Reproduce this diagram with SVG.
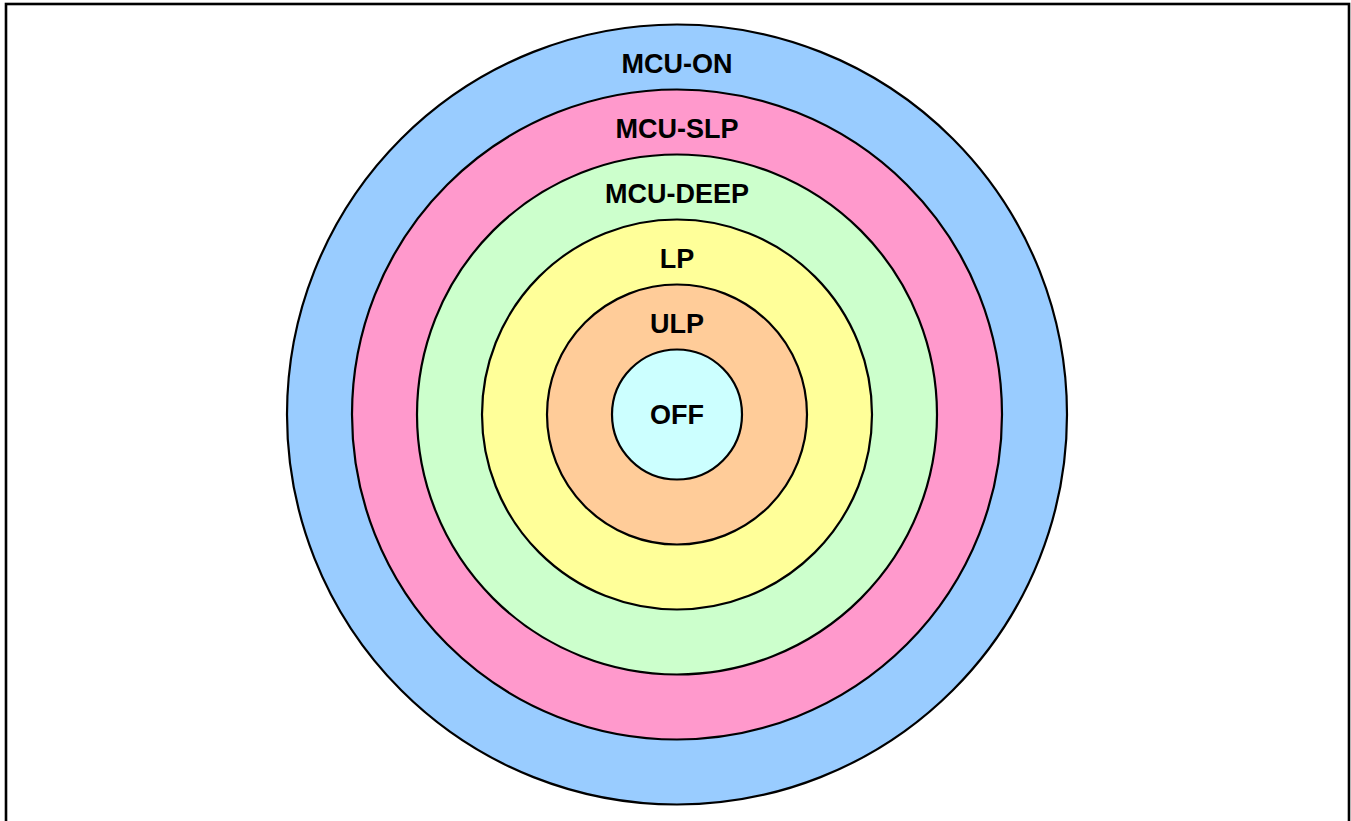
<svg xmlns="http://www.w3.org/2000/svg" width="1351" height="821" viewBox="0 0 1351 821">
  <style>
    .ring { stroke: #000; stroke-width: 2.2; }
    .lbl { font-family: "Liberation Sans", Arial, sans-serif; font-weight: bold; font-size: 27px; fill: #000; text-anchor: middle; }
  </style>
  <rect x="0" y="0" width="1351" height="821" fill="#fff"/>
  <!-- frame, open at the bottom edge -->
  <rect x="6" y="4" width="1343" height="900" fill="none" stroke="#000" stroke-width="2.6"/>

  <g id="mcu-on">
    <circle class="ring" cx="677" cy="414.5" r="390" fill="#99ccff"/>
    <text class="lbl" x="677" y="72.5">MCU-ON</text>
  </g>
  <g id="mcu-slp">
    <circle class="ring" cx="677" cy="414.5" r="325" fill="#ff99cc"/>
    <text class="lbl" x="677" y="137.5">MCU-SLP</text>
  </g>
  <g id="mcu-deep">
    <circle class="ring" cx="677" cy="414.5" r="260" fill="#ccffcc"/>
    <text class="lbl" x="677" y="202.5">MCU-DEEP</text>
  </g>
  <g id="lp">
    <circle class="ring" cx="677" cy="414.5" r="195" fill="#ffff99"/>
    <text class="lbl" x="677" y="267.5">LP</text>
  </g>
  <g id="ulp">
    <circle class="ring" cx="677" cy="414.5" r="130" fill="#ffcc99"/>
    <text class="lbl" x="677" y="333">ULP</text>
  </g>
  <g id="off">
    <circle class="ring" cx="677" cy="414.5" r="65" fill="#ccffff"/>
    <text class="lbl" x="677" y="423.5">OFF</text>
  </g>
  <g id="connectors"/>
</svg>
